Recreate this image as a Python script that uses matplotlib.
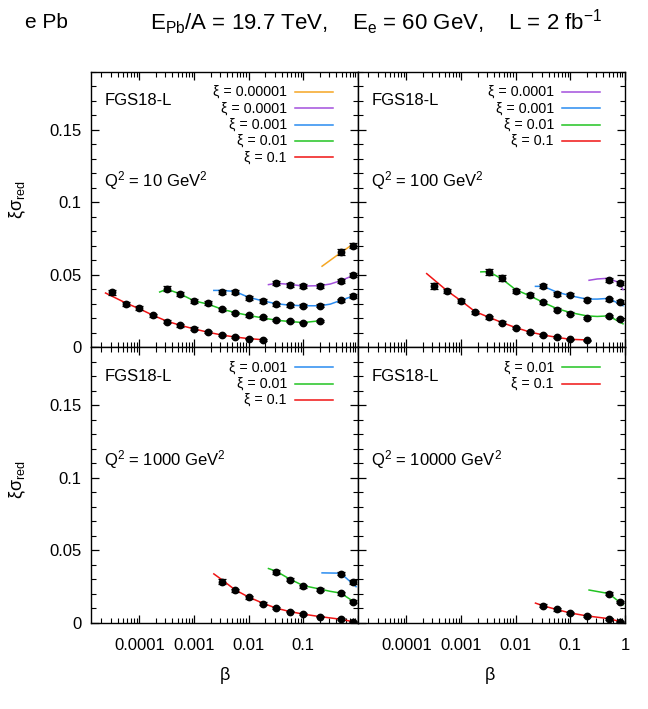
import matplotlib
matplotlib.use('Agg')
import matplotlib.pyplot as plt
from matplotlib.ticker import LogLocator, MultipleLocator, FixedLocator, FixedFormatter, NullFormatter

plt.rcParams['font.family'] = ['Liberation Sans', 'DejaVu Sans']
plt.rcParams['mathtext.fontset'] = 'custom'
plt.rcParams['mathtext.rm'] = 'Liberation Sans'
plt.rcParams['mathtext.it'] = 'Liberation Sans:italic'

#colores por xi#
col = {'0.00001': '#f5a623', '0.0001': '#a350dc', '0.001': '#2a8cf0',
       '0.01': '#22c322', '0.1': '#f01414'}

#Q2 = 10 GeV2#
q10_red_b = [3.2e-5, 5.6e-5, 1e-4, 1.8e-4, 3.2e-4, 5.6e-4, 1e-3, 1.8e-3, 3.2e-3, 5.6e-3, 0.01, 0.018]
q10_red_y = [0.0377, 0.0296, 0.0269, 0.0218, 0.0176, 0.0150, 0.0127, 0.0102, 0.0081, 0.0069, 0.0058, 0.0049]
q10_red_e = [0.0020, 0.0015, 0.0015, 0.0012, 0.0010, 0.0009, 0.0008, 0.0007, 0.0006, 0.0006, 0.0005, 0.0005]
q10_red_cb = [2.4e-5, 5.7e-5, 1e-4, 1.8e-4, 3.2e-4, 5.6e-4, 1e-3, 1.8e-3, 3.2e-3, 5.6e-3, 0.01, 0.02]
q10_red_cy = [0.0373, 0.0303, 0.0264, 0.0218, 0.0178, 0.0150, 0.0125, 0.0102, 0.0083, 0.0069, 0.0058, 0.0049]

q10_grn_b = [3.2e-4, 5.6e-4, 1e-3, 1.8e-3, 3.2e-3, 5.6e-3, 0.01, 0.018, 0.032, 0.056, 0.1, 0.2]
q10_grn_y = [0.0403, 0.0366, 0.0319, 0.0303, 0.0262, 0.0236, 0.0218, 0.0204, 0.0188, 0.0178, 0.0169, 0.0183]
q10_grn_e = [0.0018, 0.0015, 0.0012, 0.0012, 0.0010, 0.0009, 0.0008, 0.0008, 0.0007, 0.0007, 0.0006, 0.0007]
q10_grn_cb = [2.35e-4, 3.2e-4, 5.6e-4, 1e-3, 1.8e-3, 3.2e-3, 5.6e-3, 0.01, 0.018, 0.032, 0.056, 0.1, 0.2]
q10_grn_cy = [0.0380, 0.0400, 0.0366, 0.0319, 0.0296, 0.0262, 0.0238, 0.0218, 0.0201, 0.0185, 0.0176, 0.0169, 0.0181]

q10_blu_b = [3.2e-3, 5.6e-3, 0.01, 0.018, 0.032, 0.056, 0.1, 0.2, 0.48, 0.8]
q10_blu_y = [0.0380, 0.0380, 0.0340, 0.0319, 0.0294, 0.0287, 0.0285, 0.0285, 0.0322, 0.0354]
q10_blu_e = [0.0016, 0.0015, 0.0013, 0.0012, 0.0011, 0.0010, 0.0010, 0.0010, 0.0011, 0.0012]
q10_blu_cb = [2.3e-3, 3.2e-3, 5.6e-3, 0.01, 0.018, 0.032, 0.056, 0.1, 0.2, 0.31, 0.48, 0.92]
q10_blu_cy = [0.0391, 0.0391, 0.0384, 0.0343, 0.0319, 0.0299, 0.0289, 0.0285, 0.0285, 0.0296, 0.0322, 0.0359]

q10_pur_b = [0.032, 0.056, 0.1, 0.2, 0.48, 0.8]
q10_pur_y = [0.0440, 0.0431, 0.0421, 0.0424, 0.0458, 0.0498]
q10_pur_e = [0.0014, 0.0013, 0.0013, 0.0013, 0.0014, 0.0015]
q10_pur_cb = [0.023, 0.032, 0.056, 0.1, 0.2, 0.31, 0.48, 0.92]
q10_pur_cy = [0.0431, 0.0440, 0.0433, 0.0421, 0.0424, 0.0435, 0.0458, 0.0502]

q10_ora_b = [0.48, 0.8]
q10_ora_y = [0.0657, 0.0701]
q10_ora_e = [0.0018, 0.0018]
q10_ora_cb = [0.22, 0.48, 0.82]
q10_ora_cy = [0.0558, 0.0651, 0.0712]

#Q2 = 100 GeV2#
q100_red_b = [3.2e-4, 5.6e-4, 1e-3, 1.8e-3, 3.2e-3, 5.6e-3, 0.01, 0.018, 0.032, 0.056, 0.1, 0.2]
q100_red_y = [0.0419, 0.0387, 0.0319, 0.0241, 0.0204, 0.0169, 0.0132, 0.0102, 0.0081, 0.0069, 0.0053, 0.0046]
q100_red_e = [0.0020, 0.0015, 0.0013, 0.0011, 0.0010, 0.0008, 0.0007, 0.0006, 0.0006, 0.0005, 0.0005, 0.0005]
q100_red_cb = [2.35e-4, 5.6e-4, 1e-3, 1.8e-3, 3.2e-3, 5.6e-3, 0.01, 0.018, 0.032, 0.056, 0.1, 0.2]
q100_red_cy = [0.0507, 0.0387, 0.0319, 0.0245, 0.0206, 0.0169, 0.0134, 0.0104, 0.0083, 0.0067, 0.0053, 0.0049]

q100_grn_b = [3.2e-3, 5.6e-3, 0.01, 0.018, 0.032, 0.056, 0.1, 0.2, 0.5, 0.8]
q100_grn_y = [0.0519, 0.0477, 0.0389, 0.0359, 0.0308, 0.0257, 0.0231, 0.0199, 0.0215, 0.0192]
q100_grn_e = [0.0020, 0.0018, 0.0014, 0.0013, 0.0011, 0.0010, 0.0009, 0.0008, 0.0009, 0.0008]
q100_grn_cb = [2.3e-3, 3.2e-3, 5.6e-3, 0.01, 0.018, 0.032, 0.056, 0.1, 0.2, 0.31, 0.5, 0.92]
q100_grn_cy = [0.0519, 0.0521, 0.0470, 0.0396, 0.0354, 0.0308, 0.0266, 0.0238, 0.0215, 0.0211, 0.0215, 0.0160]

q100_blu_b = [0.032, 0.056, 0.1, 0.2, 0.5, 0.8]
q100_blu_y = [0.0419, 0.0366, 0.0361, 0.0326, 0.0331, 0.0313]
q100_blu_e = [0.0014, 0.0013, 0.0012, 0.0011, 0.0011, 0.0011]
q100_blu_cb = [0.023, 0.032, 0.056, 0.1, 0.2, 0.31, 0.5, 0.92]
q100_blu_cy = [0.0419, 0.0419, 0.0380, 0.0354, 0.0331, 0.0331, 0.0336, 0.0285]

q100_pur_b = [0.5, 0.8]
q100_pur_y = [0.0461, 0.0442]
q100_pur_e = [0.0014, 0.0014]
q100_pur_cb = [0.22, 0.31, 0.5, 0.8, 0.92]
q100_pur_cy = [0.0461, 0.0470, 0.0475, 0.0442, 0.0396]

#Q2 = 1000 GeV2#
q1000_red_b = [3.2e-3, 5.6e-3, 0.01, 0.018, 0.032, 0.056, 0.1, 0.2, 0.48, 0.8]
q1000_red_y = [0.0285, 0.0224, 0.0176, 0.0134, 0.0102, 0.0079, 0.0063, 0.0044, 0.0026, 0.0009]
q1000_red_e = [0.0015, 0.0012, 0.0010, 0.0008, 0.0007, 0.0006, 0.0006, 0.0005, 0.0005, 0.0005]
q1000_red_cb = [2.3e-3, 3.2e-3, 5.6e-3, 0.01, 0.018, 0.032, 0.056, 0.1, 0.2, 0.48, 0.92]
q1000_red_cy = [0.0338, 0.0299, 0.0229, 0.0178, 0.0137, 0.0102, 0.0079, 0.0061, 0.0044, 0.0026, 0.0005]

q1000_grn_b = [0.032, 0.056, 0.1, 0.2, 0.48, 0.8]
q1000_grn_y = [0.0352, 0.0299, 0.0252, 0.0229, 0.0204, 0.0148]
q1000_grn_e = [0.0015, 0.0013, 0.0011, 0.0010, 0.0009, 0.0008]
q1000_grn_cb = [0.023, 0.032, 0.056, 0.1, 0.2, 0.31, 0.48, 0.92]
q1000_grn_cy = [0.0375, 0.0356, 0.0303, 0.0257, 0.0234, 0.0218, 0.0206, 0.0137]

q1000_blu_b = [0.48, 0.8]
q1000_blu_y = [0.0340, 0.0282]
q1000_blu_e = [0.0012, 0.0011]
q1000_blu_cb = [0.22, 0.48, 0.92]
q1000_blu_cy = [0.0345, 0.0343, 0.0250]

#Q2 = 10000 GeV2#
q10000_red_b = [0.032, 0.056, 0.1, 0.2, 0.5, 0.8]
q10000_red_y = [0.0118, 0.0093, 0.0067, 0.0049, 0.0028, 0.0009]
q10000_red_e = [0.0010, 0.0008, 0.0007, 0.0006, 0.0005, 0.0005]
q10000_red_cb = [0.023, 0.032, 0.056, 0.1, 0.2, 0.5, 0.92]
q10000_red_cy = [0.0137, 0.0118, 0.0093, 0.0069, 0.0049, 0.0030, 0.0005]

q10000_grn_b = [0.5, 0.8]
q10000_grn_y = [0.0201, 0.0144]
q10000_grn_e = [0.0010, 0.0009]
q10000_grn_cb = [0.22, 0.5, 0.92]
q10000_grn_cy = [0.0227, 0.0203, 0.0126]

paneles = [
    ('Q$^2$ = 10 GeV$^2$', [
        ('0.00001', q10_ora_b, q10_ora_y, q10_ora_e, q10_ora_cb, q10_ora_cy),
        ('0.0001', q10_pur_b, q10_pur_y, q10_pur_e, q10_pur_cb, q10_pur_cy),
        ('0.001', q10_blu_b, q10_blu_y, q10_blu_e, q10_blu_cb, q10_blu_cy),
        ('0.01', q10_grn_b, q10_grn_y, q10_grn_e, q10_grn_cb, q10_grn_cy),
        ('0.1', q10_red_b, q10_red_y, q10_red_e, q10_red_cb, q10_red_cy)]),
    ('Q$^2$ = 100 GeV$^2$', [
        ('0.0001', q100_pur_b, q100_pur_y, q100_pur_e, q100_pur_cb, q100_pur_cy),
        ('0.001', q100_blu_b, q100_blu_y, q100_blu_e, q100_blu_cb, q100_blu_cy),
        ('0.01', q100_grn_b, q100_grn_y, q100_grn_e, q100_grn_cb, q100_grn_cy),
        ('0.1', q100_red_b, q100_red_y, q100_red_e, q100_red_cb, q100_red_cy)]),
    ('Q$^2$ = 1000 GeV$^2$', [
        ('0.001', q1000_blu_b, q1000_blu_y, q1000_blu_e, q1000_blu_cb, q1000_blu_cy),
        ('0.01', q1000_grn_b, q1000_grn_y, q1000_grn_e, q1000_grn_cb, q1000_grn_cy),
        ('0.1', q1000_red_b, q1000_red_y, q1000_red_e, q1000_red_cb, q1000_red_cy)]),
    ('Q$^2$ = 10000 GeV$^2$', [
        ('0.01', q10000_grn_b, q10000_grn_y, q10000_grn_e, q10000_grn_cb, q10000_grn_cy),
        ('0.1', q10000_red_b, q10000_red_y, q10000_red_e, q10000_red_cb, q10000_red_cy)]),
]

W, H = 648, 709
fig = plt.figure(figsize=(W/100, H/100), dpi=100)

#posiciones de los paneles en pixeles (izq, arriba, der, abajo)#
cajas = [(91, 72, 358, 347), (358, 72, 625, 347), (91, 347, 358, 623), (358, 347, 625, 623)]

for i, (q2txt, series) in enumerate(paneles):
    x0, y0, x1, y1 = cajas[i]
    ax = fig.add_axes([x0/W, 1-y1/H, (x1-x0)/W, (y1-y0)/H])
    ax.set_xscale('log')
    ax.set_xlim(1.3e-5, 1.0)
    ax.set_ylim(0, 0.19)
    for xi, b, y, e, cb, cy in series:
        ax.plot(cb, cy, color=col[xi], lw=1.1, zorder=2)
        ax.errorbar(b, y, yerr=e, fmt='o', color='black', ms=4.6,
                    elinewidth=0.9, capsize=3, capthick=0.9, zorder=3)
    #leyenda manual#
    for k, (xi, *_rest) in enumerate(series):
        yy = 0.928 - k*0.0596 if i < 2 else 0.926 - k*0.059
        ax.text(0.734, yy, 'ξ = ' + xi, transform=ax.transAxes, ha='right',
                va='center', fontsize=10.3)
        ax.plot([0.764, 0.906], [yy, yy], transform=ax.transAxes,
                color=col[xi], lw=1.1)
    ax.text(0.05, 0.896 if i < 2 else 0.892, 'FGS18-L', transform=ax.transAxes,
            fontsize=12, va='center', ha='left')
    ax.text(0.05, 0.607 if i < 2 else 0.594, q2txt, transform=ax.transAxes,
            fontsize=12, va='center', ha='left')

    ax.yaxis.set_major_locator(MultipleLocator(0.05))
    ax.yaxis.set_minor_locator(MultipleLocator(0.01))
    ax.xaxis.set_major_locator(LogLocator(base=10, numticks=20))
    ax.xaxis.set_minor_locator(LogLocator(base=10, subs=range(2, 10), numticks=20))
    ax.xaxis.set_minor_formatter(NullFormatter())
    ax.tick_params(which='both', direction='in', top=True, right=True)
    ax.tick_params(which='major', length=6, width=0.9, labelsize=12)
    ax.tick_params(which='minor', length=3.5, width=0.8)
    ax.tick_params(axis='x', pad=11)
    ax.tick_params(axis='y', pad=7)
    for s in ax.spines.values():
        s.set_linewidth(1.0)

    if i in (0, 2):
        ax.yaxis.set_major_formatter(FixedFormatter(['0', '0.05', '0.1', '0.15']))
        ax.yaxis.set_major_locator(FixedLocator([0, 0.05, 0.1, 0.15]))
    else:
        ax.set_yticklabels([])
    if i == 2:
        ax.xaxis.set_major_locator(FixedLocator([1e-4, 1e-3, 1e-2, 1e-1, 1]))
        ax.xaxis.set_major_formatter(FixedFormatter(['0.0001', '0.001', '0.01', '0.1', '']))
    elif i == 3:
        ax.xaxis.set_major_locator(FixedLocator([1e-4, 1e-3, 1e-2, 1e-1, 1]))
        ax.xaxis.set_major_formatter(FixedFormatter(['0.0001', '0.001', '0.01', '0.1', '1']))
    else:
        ax.set_xticklabels([])

#etiquetas de ejes#
for yy in (200, 480):
    fig.text(18/W, 1-yy/H, r'ξσ$_{\mathrm{red}}$', rotation=90, ha='center',
             va='center', fontsize=13)
for xx in (225, 490):
    fig.text(xx/W, 1-675/H, 'β', ha='center', va='center', fontsize=13)

#titulo#
fig.text(25/W, 1-22/H, 'e Pb', ha='left', va='center', fontsize=15)
fig.text(150/W, 1-22/H,
         r'E$_{\mathrm{Pb}}$/A = 19.7 TeV,    E$_{\mathrm{e}}$ = 60 GeV,    L = 2 fb$^{-1}$',
         ha='left', va='center', fontsize=16)

fig.savefig('out.png', dpi=100)
